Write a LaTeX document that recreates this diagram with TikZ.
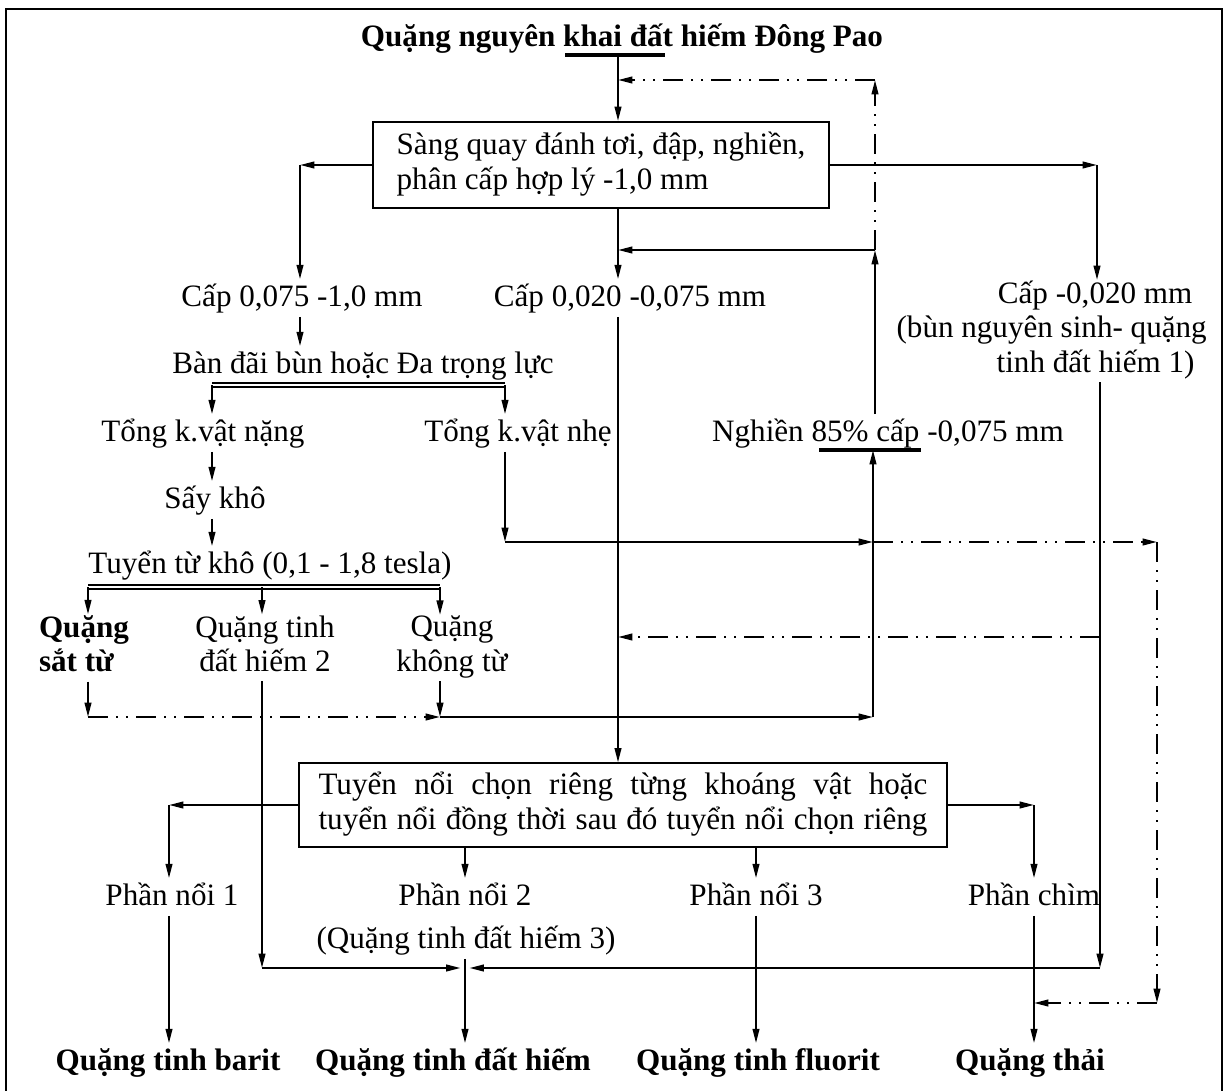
\documentclass[tikz,border=0pt]{standalone}
\usepackage{fontspec}
\setmainfont{Liberation Serif}
\usetikzlibrary{arrows.meta,positioning}

\begin{document}
\begin{tikzpicture}[x=0.45pt,y=-0.45pt,line width=0.9pt,
  >={Triangle[length=6.5pt,width=3pt]},
  every node/.style={inner xsep=1pt,inner ysep=0pt,font=\fontsize{14}{15.5}\selectfont,
    execute at begin node={\rule{0pt}{12pt}},execute at end node={\rule[-4pt]{0pt}{4pt}}},
  proc/.style={draw,inner xsep=9pt,inner ysep=3pt,align=left},
  prod/.style={font=\fontsize{14}{15.5}\selectfont\bfseries},
  recyc/.style={dash pattern=on 9pt off 3.6pt on 0.9pt off 3.6pt on 0.9pt off 3.6pt},
  bar/.style={line width=1.6pt},
  split/.style={double,double distance=1.3pt,line width=0.6pt}]

    \useasboundingbox (0,0) rectangle (1229,1091);
    \draw (6,9) rectangle (1222,1100);

    % nodes
    \node[prod] (quang_nk) at (622,38) {Quặng nguyên khai đất hiếm Đông Pao};
    \node[proc,minimum width=205.6pt,minimum height=38.7pt] (sang) at (601,165)
        {Sàng quay đánh tơi, đập, nghiền,\\ phân cấp hợp lý -1,0 mm};
    \node (cap_1) at (302,298) {Cấp 0,075 -1,0 mm};
    \node (cap_2) at (630,298) {Cấp 0,020 -0,075 mm};
    \node[align=right,anchor=north east] (cap_3) at (1210,280)
        {Cấp -0,020 mm\hspace*{6.5pt}\\ (bùn nguyên sinh- quặng\\ tinh đất hiếm 1)\hspace*{5.5pt}};
    \node (ban_dai) at (363,365) {Bàn đãi bùn hoặc Đa trọng lực};
    \node (tong_nang) at (203,433) {Tổng k.vật nặng};
    \node (tong_nhe) at (518,433) {Tổng k.vật nhẹ};
    \node (nghien) at (888,433) {Nghiền 85\% cấp -0,075 mm};
    \node (say_kho) at (215,500) {Sấy khô};
    \node (tuyen_tu) at (270,565) {Tuyển từ khô (0,1 - 1,8 tesla)};
    \node[prod,align=left] (sat_tu) at (84,648) {Quặng\\ sắt từ};
    \node[align=center] (qt_2) at (265,648) {Quặng tinh\\ đất hiếm 2};
    \node[align=center] (khong_tu) at (452,648) {Quặng\\ không từ};
    \node[proc,minimum height=37.4pt] (tuyen_noi) at (623,805)
        {\makebox[274pt][s]{Tuyển nổi chọn riêng từng khoáng vật hoặc}\\
         \makebox[274pt][s]{tuyển nổi đồng thời sau đó tuyển nổi chọn riêng}};
    \node (noi_1) at (172,897) {Phần nổi 1};
    \node (noi_2) at (465,897) {Phần nổi 2};
    \node (noi_2b) at (466,940) {(Quặng tinh đất hiếm 3)};
    \node (noi_3) at (756,897) {Phần nổi 3};
    \node (chim) at (1034,897) {Phần chìm};
    \node[prod] (qt_barit) at (168,1062) {Quặng tinh barit};
    \node[prod] (qt_dh) at (453,1062) {Quặng tinh đất hiếm};
    \node[prod] (qt_fl) at (758,1062) {Quặng tinh fluorit};
    \node[prod] (thai) at (1030,1062) {Quặng thải};

    % junctions
    \coordinate (bar_0) at (618,55);
    \coordinate (r_top) at (875,80);
    \coordinate (r_up) at (875,250);
    \coordinate (l_0) at (300,165);
    \coordinate (r_0) at (1097,165);
    \coordinate (bd_0) at (212,385);
    \coordinate (bd_1) at (505,385);
    \coordinate (bar_1) at (873,450);
    \coordinate (h_0) at (505,542);
    \coordinate (h_1) at (873,542);
    \coordinate (t_0) at (1157,542);
    \coordinate (t_1) at (1157,1003);
    \coordinate (tt_0) at (88,587);
    \coordinate (tt_1) at (262,587);
    \coordinate (tt_2) at (440,587);
    \coordinate (c_1) at (1100,637);
    \coordinate (s_0) at (88,717);
    \coordinate (k_0) at (440,717);
    \coordinate (n_0) at (873,717);
    \coordinate (g_0) at (262,968);
    \coordinate (m_0) at (465,968);
    \coordinate (c_0) at (1100,968);
    \coordinate (f_0) at (169,805);

    \draw[bar] (565,55) -- (665,55);
    \draw[bar] (819,450) -- (921,450);
    \draw[split] (bd_0) -- (bd_1);
    \draw[split] (tt_0) -- (tt_2);

    % flows
    \draw[->] (bar_0) -- (bar_0 |- sang.north);
    \draw[recyc,->] (r_up) -- (r_top);
    \draw[recyc,->] (r_top) -- (bar_0 |- r_top);
    \draw[->] (sang.west) -- (l_0);
    \draw[->] (l_0) -- (l_0 |- cap_1.north);
    \draw[->] (sang.east) -- (r_0);
    \draw[->] (r_0) -- (r_0 |- cap_3.north);
    \draw[->] (bar_0 |- sang.south) -- (bar_0 |- cap_2.north);
    \draw[->] (nghien.north -| r_up) -- (r_up);
    \draw[->] (r_up) -- (bar_0 |- r_up);
    \draw[->] (bar_0 |- cap_2.south) -- (bar_0 |- tuyen_noi.north);
    \draw[->] (l_0 |- cap_1.south) -- (l_0 |- ban_dai.north);
    \draw[->] (bd_0) -- (bd_0 |- tong_nang.north);
    \draw[->] (bd_1) -- (bd_1 |- tong_nhe.north);
    \draw[->] (bd_0 |- tong_nang.south) -- (bd_0 |- say_kho.north);
    \draw[->] (bd_0 |- say_kho.south) -- (bd_0 |- tuyen_tu.north);
    \draw[->] (tt_0) -- (tt_0 |- sat_tu.north);
    \draw[->] (tt_1) -- (tt_1 |- qt_2.north);
    \draw[->] (tt_2) -- (tt_2 |- khong_tu.north);
    \draw[->] (tt_0 |- sat_tu.south) -- (s_0);
    \draw[recyc,->] (s_0) -- (k_0);
    \draw[->] (k_0 |- khong_tu.south) -- (k_0);
    \draw[->] (k_0) -- (n_0);
    \draw[->] (n_0) -- (bar_1);
    \draw[->] (bd_1 |- tong_nhe.south) -- (h_0);
    \draw[->] (h_0) -- (h_1);
    \draw[recyc,->] (h_1) -- (t_0);
    \draw[recyc,->] (t_0) -- (t_1);
    \draw[recyc,->] (t_1) -- (t_1 -| chim);
    \draw[->] (c_0 |- cap_3.south) -- (c_0);
    \draw[->,shorten >=2pt] (c_0) -- (m_0);
    \draw[recyc,->] (c_1) -- (bar_0 |- c_1);
    \draw[->] (tt_1 |- qt_2.south) -- (g_0);
    \draw[->,shorten >=2pt] (g_0) -- (m_0);
    \draw[->] (tuyen_noi.west) -- (f_0);
    \draw[->] (f_0) -- (f_0 |- noi_1.north);
    \draw[->] (tuyen_noi.south -| m_0) -- (m_0 |- noi_2.north);
    \draw[->] (tuyen_noi.south -| noi_3) -- (noi_3);
    \draw[->] (tuyen_noi.east) -- (tuyen_noi.east -| chim);
    \draw[->] (tuyen_noi.east -| chim) -- (chim);
    \draw[->] (f_0 |- noi_1.south) -- (f_0 |- qt_barit.north);
    \draw[->] (m_0 |- noi_2b.south) -- (m_0 |- qt_dh.north);
    \draw[->] (noi_3) -- (noi_3 |- qt_fl.north);
    \draw[->] (chim) -- (chim |- thai.north);

\end{tikzpicture}
\end{document}
